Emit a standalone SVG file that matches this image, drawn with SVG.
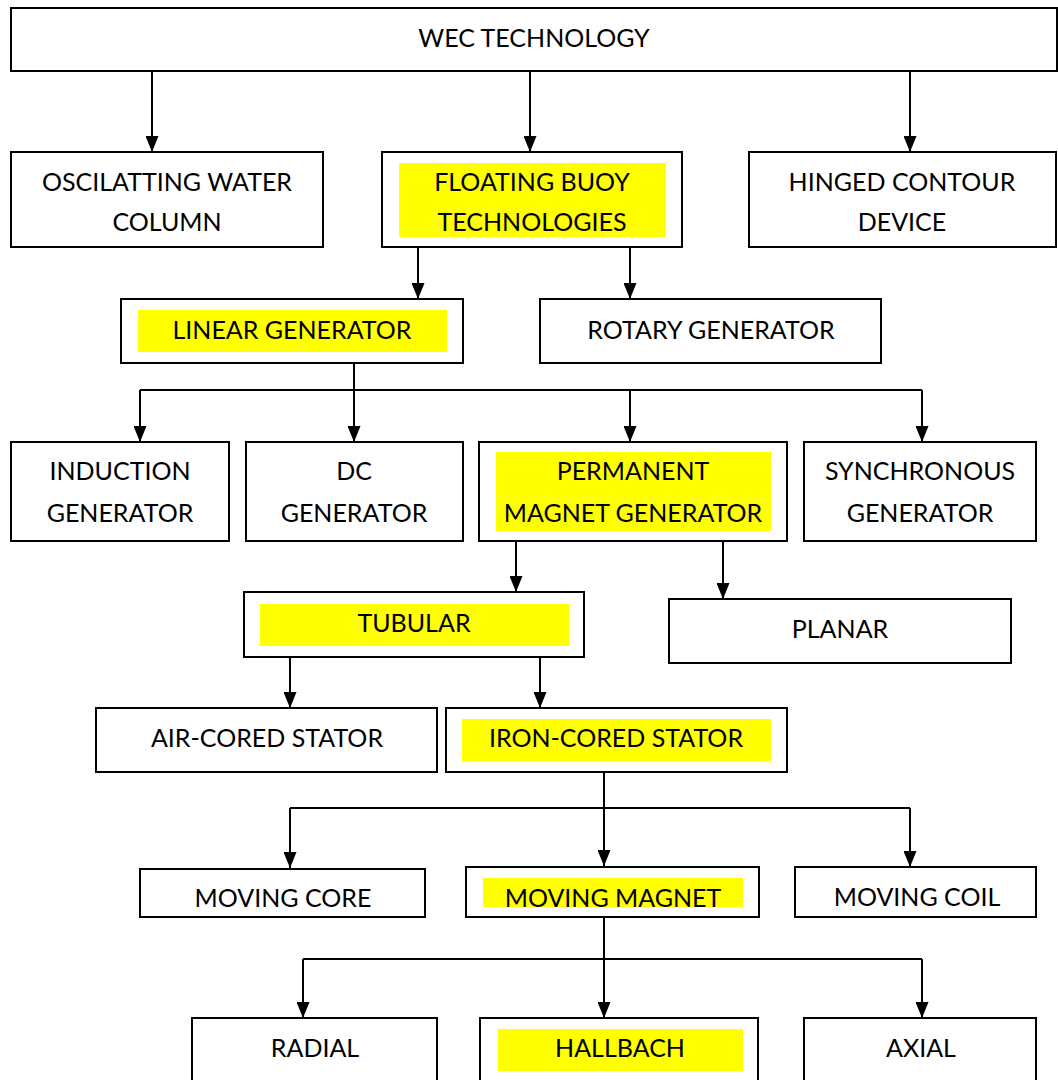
<svg xmlns="http://www.w3.org/2000/svg" width="1058" height="1080" viewBox="0 0 1058 1080">
<style>
.box{fill:#fff;stroke:#000;stroke-width:2}
.hl{fill:#ffff00}
.t{font-family:Lato,"Liberation Sans",sans-serif;font-size:25px;fill:#000;text-anchor:middle}
.c{fill:none;stroke:#000;stroke-width:2}
</style>
<defs>
<marker id="a" markerWidth="16" markerHeight="13" refX="16" refY="6.5" orient="auto" markerUnits="userSpaceOnUse" viewBox="0 0 16 13">
<path d="M0,0 L16,6.5 L0,13 Z" fill="#000"/>
</marker>
<clipPath id="clipMove"><rect x="0" y="860" width="1058" height="47.5"/></clipPath>
</defs>

<g id="connectors">
<path class="c" d="M152,71 V152" marker-end="url(#a)"/>
<path class="c" d="M530,71 V152" marker-end="url(#a)"/>
<path class="c" d="M910,71 V152" marker-end="url(#a)"/>
<path class="c" d="M418,247 V299" marker-end="url(#a)"/>
<path class="c" d="M630,247 V299" marker-end="url(#a)"/>
<path class="c" d="M354,363 V390"/>
<path class="c" d="M140,390 H922"/>
<path class="c" d="M140,390 V442" marker-end="url(#a)"/>
<path class="c" d="M354,390 V442" marker-end="url(#a)"/>
<path class="c" d="M630,390 V442" marker-end="url(#a)"/>
<path class="c" d="M922,390 V442" marker-end="url(#a)"/>
<path class="c" d="M516,541 V592" marker-end="url(#a)"/>
<path class="c" d="M723,541 V599" marker-end="url(#a)"/>
<path class="c" d="M290,657 V708" marker-end="url(#a)"/>
<path class="c" d="M540,657 V708" marker-end="url(#a)"/>
<path class="c" d="M604,772 V808"/>
<path class="c" d="M290,808 H910"/>
<path class="c" d="M290,808 V868" marker-end="url(#a)"/>
<path class="c" d="M604,808 V866" marker-end="url(#a)"/>
<path class="c" d="M910,808 V867" marker-end="url(#a)"/>
<path class="c" d="M604,917 V959"/>
<path class="c" d="M303,959 H922"/>
<path class="c" d="M303,959 V1018" marker-end="url(#a)"/>
<path class="c" d="M604,959 V1018" marker-end="url(#a)"/>
<path class="c" d="M922,959 V1018" marker-end="url(#a)"/>
</g>

<g id="wec">
<rect class="box" x="11" y="8" width="1046" height="63"/>
<text class="t" x="534" y="47">WEC TECHNOLOGY</text>
</g>

<g id="owc">
<rect class="box" x="11" y="152" width="312" height="95"/>
<text class="t" x="167" y="191">OSCILATTING WATER</text>
<text class="t" x="167" y="231">COLUMN</text>
</g>

<g id="floating">
<rect class="box" x="382" y="152" width="300" height="95"/>
<rect class="hl" x="399" y="163" width="267" height="74"/>
<text class="t" x="532" y="191">FLOATING BUOY</text>
<text class="t" x="532" y="231">TECHNOLOGIES</text>
</g>

<g id="hinged">
<rect class="box" x="749" y="152" width="307" height="95"/>
<text class="t" x="902" y="191">HINGED CONTOUR</text>
<text class="t" x="902" y="231">DEVICE</text>
</g>

<g id="linear">
<rect class="box" x="121" y="299" width="342" height="64"/>
<rect class="hl" x="138" y="310" width="309" height="42"/>
<text class="t" x="292" y="339">LINEAR GENERATOR</text>
</g>

<g id="rotary">
<rect class="box" x="540" y="299" width="341" height="64"/>
<text class="t" x="711" y="339">ROTARY GENERATOR</text>
</g>

<g id="induction">
<rect class="box" x="11" y="442" width="218" height="99"/>
<text class="t" x="120" y="480">INDUCTION</text>
<text class="t" x="120" y="522">GENERATOR</text>
</g>

<g id="dc">
<rect class="box" x="246" y="442" width="217" height="99"/>
<text class="t" x="354" y="480">DC</text>
<text class="t" x="354" y="522">GENERATOR</text>
</g>

<g id="pmg">
<rect class="box" x="479" y="442" width="308" height="99"/>
<rect class="hl" x="496" y="452" width="275" height="79"/>
<text class="t" x="633" y="480">PERMANENT</text>
<text class="t" x="633" y="522">MAGNET GENERATOR</text>
</g>

<g id="synchronous">
<rect class="box" x="804" y="442" width="232" height="99"/>
<text class="t" x="920" y="480">SYNCHRONOUS</text>
<text class="t" x="920" y="522">GENERATOR</text>
</g>

<g id="tubular">
<rect class="box" x="244" y="592" width="340" height="65"/>
<rect class="hl" x="260" y="604" width="309" height="42"/>
<text class="t" x="414" y="632">TUBULAR</text>
</g>

<g id="planar">
<rect class="box" x="669" y="599" width="342" height="64"/>
<text class="t" x="840" y="638">PLANAR</text>
</g>

<g id="aircored">
<rect class="box" x="96" y="708" width="341" height="64"/>
<text class="t" x="267" y="747">AIR-CORED STATOR</text>
</g>

<g id="ironcored">
<rect class="box" x="446" y="708" width="341" height="64"/>
<rect class="hl" x="462" y="719" width="309" height="42"/>
<text class="t" x="616" y="747">IRON-CORED STATOR</text>
</g>

<g id="movingcore">
<rect class="box" x="140" y="869" width="285" height="48"/>
<text class="t" x="283" y="907" clip-path="url(#clipMove)">MOVING CORE</text>
</g>

<g id="movingmagnet">
<rect class="box" x="466" y="867" width="293" height="50"/>
<rect class="hl" x="483" y="878" width="260" height="29"/>
<text class="t" x="613" y="907" clip-path="url(#clipMove)">MOVING MAGNET</text>
</g>

<g id="movingcoil">
<rect class="box" x="795" y="867" width="241" height="50"/>
<text class="t" x="917" y="906">MOVING COIL</text>
</g>

<g id="radial">
<rect class="box" x="192" y="1018" width="245" height="80"/>
<text class="t" x="315" y="1057">RADIAL</text>
</g>

<g id="hallbach">
<rect class="box" x="480" y="1018" width="278" height="80"/>
<rect class="hl" x="498" y="1029" width="245" height="42"/>
<text class="t" x="620" y="1057">HALLBACH</text>
</g>

<g id="axial">
<rect class="box" x="804" y="1018" width="232" height="80"/>
<text class="t" x="921" y="1057">AXIAL</text>
</g>
</svg>
